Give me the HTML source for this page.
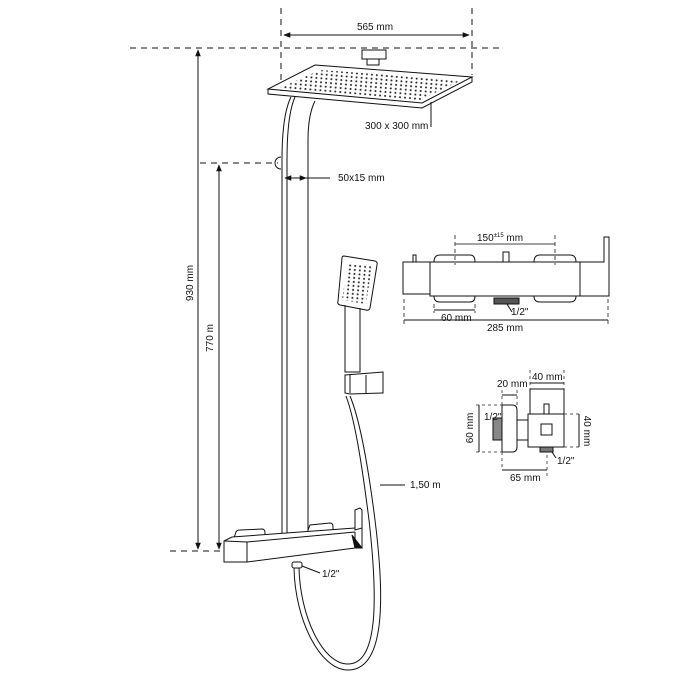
<!DOCTYPE html>
<html><head><meta charset="utf-8"><style>html,body{margin:0;padding:0;background:#fff}svg{display:block}</style></head>
<body>
<svg width="680" height="680" viewBox="0 0 680 680" xmlns="http://www.w3.org/2000/svg" font-family="Liberation Sans, sans-serif" font-size="10" fill="none" stroke="#111" stroke-width="1">
<defs>
<marker id="a" viewBox="0 0 10 10" refX="9" refY="5" markerWidth="7" markerHeight="7" orient="auto-start-reverse"><path d="M0,1 L10,5 L0,9 z" fill="#111" stroke="none"/></marker>
<pattern id="dots" width="5" height="4" patternUnits="userSpaceOnUse" patternTransform="rotate(5)"><circle cx="2" cy="2" r="1" fill="#222" stroke="none"/></pattern>
</defs>
<!-- top dims -->
<g stroke-dasharray="6,5">
<line x1="281" y1="8" x2="281" y2="95"/><line x1="472" y1="8" x2="472" y2="75"/>
<line x1="130" y1="48" x2="500" y2="48"/>
<line x1="200" y1="163" x2="278" y2="163"/>
<line x1="170" y1="551" x2="300" y2="551"/>
</g>
<line x1="284" y1="35" x2="469" y2="35" marker-start="url(#a)" marker-end="url(#a)"/>
<text x="375" y="30" fill="#111" stroke="none" text-anchor="middle">565 mm</text>
<!-- shower head -->
<rect x="362" y="50" width="24" height="9"/>
<path d="M367,59 h12 v6 h-12z"/>
<path d="M315,65 L472,77 L422,103 L268,89 Z" fill="#fff"/>
<path d="M268,89 L268,94 L422,108 L472,82 L472,77"/>
<path d="M320,70 L462,80 L420,100 L280,88 Z" fill="url(#dots)" stroke="none"/>
<line x1="431" y1="102" x2="431" y2="127"/>
<text x="365" y="129" fill="#111" stroke="none">300 x 300 mm</text>
<!-- rail -->
<path d="M291,97 Q282,115 282,160 L282,538"/>
<path d="M295,97 Q287,115 287,160 L287,537"/>
<path d="M315,101 Q308,115 308,140 L308,533"/>
<path d="M281,157 a6,6 0 0 0 0,12" />
<line x1="285" y1="178" x2="306" y2="178" marker-start="url(#a)" marker-end="url(#a)"/>
<line x1="306" y1="178" x2="330" y2="178"/>
<text x="338" y="181" fill="#111" stroke="none">50x15 mm</text>
<!-- vertical dims -->
<line x1="198" y1="50" x2="198" y2="549" marker-start="url(#a)" marker-end="url(#a)"/>
<line x1="219" y1="165" x2="219" y2="549" marker-start="url(#a)" marker-end="url(#a)"/>
<text transform="translate(193,283) rotate(-90)" fill="#111" stroke="none" text-anchor="middle">930 mm</text>
<text transform="translate(213,338) rotate(-90)" fill="#111" stroke="none" text-anchor="middle">770 m</text>
<!-- valve bar -->
<path d="M234,538 L236,532 Q237,530 240,530 L262,529 Q265,529 265,533 L265,537"/>
<path d="M308,530 L310,525 L330,523 Q333,523 333,527 L333,530"/>
<path d="M224,541 L232,537 L355,528 L362,528 L362,548 L355,548 L247,562 L224,562 Z" fill="#fff"/>
<line x1="247" y1="542" x2="247" y2="562"/><line x1="224" y1="541" x2="247" y2="542"/><line x1="247" y1="542" x2="355" y2="532"/>
<line x1="355" y1="532" x2="355" y2="548"/>
<path d="M355,510 L360,508 L362,510 L362,528 L355,530 Z" fill="#fff"/>
<path d="M352,535 L355,548 L362,548 Z" fill="#111"/>
<rect x="292" y="562" width="10" height="6" rx="2"/>
<line x1="302" y1="566" x2="320" y2="573"/>
<text x="322" y="577" fill="#111" stroke="none">1/2"</text>
<!-- hose -->
<path d="M294,568 C295,620 320,670 348,670 C385,670 385,600 375,520 C368,465 360,420 350,396"/>
<path d="M299,568 C300,615 322,664 348,664 C378,664 378,600 369,520 C362,465 355,420 346,396"/>
<line x1="380" y1="485" x2="405" y2="485"/>
<text x="410" y="488" fill="#111" stroke="none">1,50 m</text>
<!-- hand shower -->
<path d="M344,256 L375,261 Q378,262 377,265 L370,308 Q369,311 366,310 L340,305 Q337,304 338,301 L342,258 Q342,256 344,256 Z" fill="#fff"/>
<path d="M348,262 L372,266 L366,304 L342,300 Z" fill="url(#dots)" stroke="none"/>
<path d="M345,305 L345,372 L360,372 L360,308"/>
<path d="M345,375 L383,372 L383,393 L350,394 L345,393 Z" fill="#fff"/>
<line x1="350" y1="375" x2="350" y2="393"/><line x1="366" y1="375" x2="366" y2="393"/>
<!-- right thermostat -->
<path d="M434,262 Q434,255 440,255 L470,255 Q475,255 475,262"/>
<path d="M534,262 Q534,255 540,255 L570,255 Q576,255 576,262"/>
<path d="M434,296 Q434,302 440,302 L470,302 Q475,302 475,296"/>
<path d="M534,296 Q534,302 540,302 L570,302 Q576,302 576,296"/>
<rect x="403" y="262" width="27" height="32"/>
<rect x="430" y="262" width="150" height="34"/>
<path d="M580,262 L604,262 L604,237 L609,237 L609,296 L580,296"/>
<rect x="413" y="255" width="3" height="7"/>
<rect x="503" y="252" width="6" height="10"/>
<rect x="494" y="298" width="25" height="6" fill="#555"/>
<line x1="507" y1="304" x2="512" y2="312"/>
<text x="511" y="315" fill="#111" stroke="none">1/2"</text>
<g stroke-dasharray="4,3" stroke="#444">
<line x1="455" y1="235" x2="455" y2="265"/><line x1="555" y1="235" x2="555" y2="265"/>
<line x1="404" y1="299" x2="404" y2="325"/><line x1="608" y1="299" x2="608" y2="325"/>
<line x1="434" y1="304" x2="434" y2="313"/><line x1="475" y1="304" x2="475" y2="313"/>
</g>
<line x1="455" y1="244" x2="555" y2="244" stroke="#444"/>
<text x="477" y="241" fill="#111" stroke="none">150<tspan font-size="6" dy="-4">±15</tspan><tspan dy="4"> mm</tspan></text>
<line x1="434" y1="310" x2="475" y2="310"/>
<text x="441" y="321" fill="#111" stroke="none">60 mm</text>
<line x1="404" y1="320" x2="608" y2="320"/>
<text x="505" y="331" fill="#111" stroke="none" text-anchor="middle">285 mm</text>
<!-- small diagram -->
<path d="M502,405 L512,405 Q517,405 517,410 L517,447 Q517,452 512,452 L502,452 Z" fill="#fff"/>
<rect x="493" y="418" width="9" height="22" fill="#888"/>
<rect x="517" y="420" width="11" height="20"/>
<rect x="530" y="389" width="34" height="25"/>
<rect x="528" y="414" width="36" height="33" fill="#fff"/>
<rect x="541" y="424" width="11" height="11"/>
<rect x="544" y="404" width="5" height="10"/>
<rect x="540" y="447" width="13" height="5" fill="#777"/>
<g stroke-dasharray="3,3" stroke="#555">
<line x1="476" y1="405" x2="502" y2="405"/><line x1="476" y1="452" x2="502" y2="452"/>
<line x1="502" y1="390" x2="502" y2="405"/><line x1="517" y1="390" x2="517" y2="405"/>
<line x1="564" y1="414" x2="582" y2="414"/><line x1="564" y1="447" x2="582" y2="447"/>
<line x1="502" y1="452" x2="502" y2="470"/><line x1="547" y1="455" x2="547" y2="478"/>
<line x1="530" y1="370" x2="530" y2="389"/><line x1="564" y1="370" x2="564" y2="389"/>
</g>
<line x1="479" y1="405" x2="479" y2="452"/>
<line x1="579" y1="414" x2="579" y2="447"/>
<line x1="502" y1="395" x2="517" y2="395"/>
<line x1="530" y1="383" x2="564" y2="383"/>
<line x1="502" y1="470" x2="547" y2="470"/>
<line x1="552" y1="452" x2="556" y2="458"/>
<text x="497" y="387" fill="#111" stroke="none">20 mm</text>
<text x="532" y="380" fill="#111" stroke="none">40 mm</text>
<text x="484" y="420" fill="#111" stroke="none">1/2"</text>
<text x="557" y="464" fill="#111" stroke="none">1/2"</text>
<text x="510" y="481" fill="#111" stroke="none">65 mm</text>
<text transform="translate(473,428) rotate(-90)" fill="#111" stroke="none" text-anchor="middle">60 mm</text>
<text transform="translate(584,431) rotate(90)" fill="#111" stroke="none" text-anchor="middle">40 mm</text>
</svg>
</body></html>
